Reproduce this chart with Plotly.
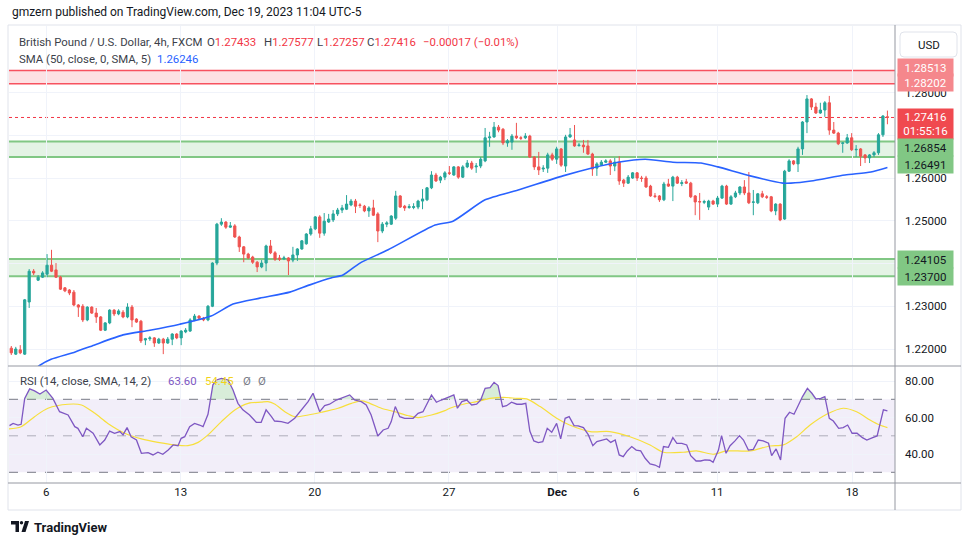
import plotly.graph_objects as go

# ---------------- data ----------------
opens = [1.2202,1.2188,1.2198,1.2188,1.2310,1.2382,1.2361,1.2368,1.2375,1.2396,
         1.2385,1.2368,1.2343,1.2338,1.2333,1.2303,1.2300,1.2268,1.2298,1.2284,
         1.2275,1.2244,1.2261,1.2291,1.2282,1.2286,1.2275,1.2298,1.2270,1.2265,
         1.2221,1.2224,1.2226,1.2214,1.2223,1.2214,1.2223,1.2235,1.2226,1.2240,
         1.2242,1.2268,1.2277,1.2272,1.2268,1.2300,1.2401,1.2492,1.2497,1.2485,
         1.2488,1.2462,1.2439,1.2422,1.2415,1.2403,1.2392,1.2401,1.2441,1.2425,
         1.2413,1.2411,1.2413,1.2408,1.2420,1.2434,1.2446,1.2469,1.2481,1.2509,
         1.2471,1.2497,1.2502,1.2516,1.2525,1.2527,1.2537,1.2546,1.2537,1.2534,
         1.2523,1.2530,1.2516,1.2476,1.2492,1.2492,1.2506,1.2558,1.2534,1.2531,
         1.2531,1.2532,1.2546,1.2549,1.2577,1.2607,1.2595,1.2602,1.2612,1.2607,
         1.2626,1.2602,1.2626,1.2635,1.2626,1.2628,1.2640,1.2694,1.2696,1.2719,
         1.2714,1.2682,1.2684,1.2698,1.2694,1.2694,1.2698,1.2649,1.2626,1.2621,
         1.2623,1.2654,1.2644,1.2668,1.2628,1.2696,1.2689,1.2676,1.2677,1.2675,
         1.2656,1.2623,1.2630,1.2637,1.2640,1.2628,1.2637,1.2595,1.2588,1.2600,
         1.2612,1.2600,1.2600,1.2581,1.2558,1.2558,1.2549,1.2586,1.2581,1.2602,
         1.2587,1.2591,1.2588,1.2558,1.2545,1.2543,1.2532,1.2546,1.2539,1.2553,
         1.2581,1.2539,1.2556,1.2565,1.2579,1.2565,1.2543,1.2542,1.2563,1.2556,
         1.2556,1.2523,1.2539,1.2504,1.2616,1.2640,1.2633,1.2668,1.2731,1.2785,
         1.2766,1.2752,1.2759,1.2776,1.2712,1.2705,1.2681,1.2682,1.2694,1.2666,
         1.2668,1.2654,1.2647,1.2654,1.2659,1.2701,1.27433]
highs = [1.2207,1.2205,1.2209,1.2317,1.2387,1.2387,1.2373,1.2382,1.2422,1.2432,
         1.2401,1.2371,1.2345,1.2340,1.2338,1.2305,1.2305,1.2300,1.2300,1.2296,
         1.2277,1.2263,1.2293,1.2293,1.2293,1.2291,1.2307,1.2303,1.2272,1.2268,
         1.2226,1.2230,1.2228,1.2226,1.2226,1.2228,1.2237,1.2237,1.2244,1.2249,
         1.2272,1.2282,1.2279,1.2275,1.2303,1.2403,1.2495,1.2506,1.2499,1.2497,
         1.2492,1.2465,1.2441,1.2425,1.2418,1.2406,1.2408,1.2444,1.2455,1.2429,
         1.2420,1.2418,1.2415,1.2439,1.2436,1.2455,1.2471,1.2488,1.2511,1.2513,
         1.2518,1.2516,1.2525,1.2530,1.2537,1.2560,1.2551,1.2551,1.2541,1.2537,
         1.2534,1.2549,1.2520,1.2497,1.2499,1.2513,1.2570,1.2560,1.2537,1.2539,
         1.2541,1.2549,1.2574,1.2579,1.2616,1.2612,1.2605,1.2616,1.2628,1.2628,
         1.2628,1.2630,1.2642,1.2640,1.2635,1.2649,1.2717,1.2708,1.2731,1.2724,
         1.2717,1.2691,1.2703,1.2729,1.2698,1.2705,1.2701,1.2651,1.2661,1.2630,
         1.2659,1.2659,1.2673,1.2670,1.2701,1.2717,1.2724,1.2682,1.2689,1.2689,
         1.2659,1.2637,1.2642,1.2644,1.2644,1.2647,1.2651,1.2598,1.2607,1.2614,
         1.2614,1.2605,1.2605,1.2584,1.2565,1.2560,1.2591,1.2598,1.2605,1.2605,
         1.2595,1.2598,1.2591,1.2560,1.2565,1.2549,1.2549,1.2549,1.2558,1.2584,
         1.2584,1.2560,1.2570,1.2581,1.2595,1.2614,1.2572,1.2565,1.2570,1.2560,
         1.2558,1.2541,1.2541,1.2619,1.2644,1.2642,1.2673,1.2733,1.2794,1.2787,
         1.2776,1.2776,1.2780,1.2792,1.2731,1.2708,1.2684,1.2703,1.2705,1.2677,
         1.2670,1.2656,1.2656,1.2663,1.2705,1.2747,1.27577]
lows = [1.2186,1.2186,1.2188,1.2186,1.2296,1.2373,1.2359,1.2366,1.2368,1.2380,
        1.2366,1.2338,1.2333,1.2326,1.2300,1.2275,1.2263,1.2265,1.2282,1.2261,
        1.2242,1.2242,1.2258,1.2277,1.2279,1.2272,1.2272,1.2251,1.2261,1.2214,
        1.2209,1.2219,1.2205,1.2212,1.2188,1.2212,1.2209,1.2223,1.2209,1.2237,
        1.2240,1.2265,1.2270,1.2265,1.2265,1.2298,1.2396,1.2488,1.2481,1.2483,
        1.2460,1.2427,1.2403,1.2410,1.2399,1.2380,1.2389,1.2382,1.2422,1.2406,
        1.2406,1.2408,1.2373,1.2403,1.2406,1.2432,1.2444,1.2465,1.2478,1.2460,
        1.2465,1.2495,1.2497,1.2511,1.2518,1.2525,1.2534,1.2518,1.2530,1.2520,
        1.2509,1.2511,1.2450,1.2471,1.2485,1.2490,1.2502,1.2530,1.2523,1.2528,
        1.2527,1.2527,1.2527,1.2546,1.2574,1.2591,1.2588,1.2595,1.2607,1.2605,
        1.2598,1.2600,1.2623,1.2619,1.2612,1.2623,1.2637,1.2673,1.2694,1.2707,
        1.2677,1.2673,1.2666,1.2691,1.2689,1.2691,1.2647,1.2619,1.2607,1.2614,
        1.2612,1.2640,1.2633,1.2626,1.2614,1.2694,1.2673,1.2673,1.2659,1.2654,
        1.2605,1.2605,1.2628,1.2635,1.2607,1.2616,1.2584,1.2579,1.2586,1.2598,
        1.2593,1.2591,1.2577,1.2556,1.2553,1.2544,1.2546,1.2579,1.2546,1.2586,
        1.2581,1.2586,1.2553,1.2513,1.2502,1.2539,1.2525,1.2537,1.2532,1.2551,
        1.2537,1.2537,1.2553,1.2560,1.2560,1.2539,1.2513,1.2539,1.2553,1.2551,
        1.2520,1.2513,1.2499,1.2502,1.2614,1.2630,1.2614,1.2654,1.2705,1.2759,
        1.2750,1.2750,1.2743,1.2701,1.2703,1.2677,1.2659,1.2680,1.2663,1.2649,
        1.2628,1.2635,1.2635,1.2649,1.2654,1.2696,1.27257]
closes = [1.2191,1.2200,1.2191,1.2315,1.2382,1.2378,1.2368,1.2378,1.2396,1.2382,
          1.2368,1.2340,1.2336,1.2331,1.2303,1.2298,1.2268,1.2298,1.2284,1.2275,
          1.2244,1.2261,1.2291,1.2282,1.2289,1.2275,1.2298,1.2268,1.2263,1.2219,
          1.2224,1.2226,1.2214,1.2223,1.2214,1.2223,1.2235,1.2226,1.2242,1.2244,
          1.2268,1.2277,1.2272,1.2268,1.2300,1.2401,1.2492,1.2497,1.2485,1.2488,
          1.2462,1.2439,1.2422,1.2413,1.2403,1.2392,1.2401,1.2441,1.2425,1.2410,
          1.2410,1.2413,1.2406,1.2420,1.2434,1.2453,1.2469,1.2481,1.2509,1.2471,
          1.2499,1.2504,1.2516,1.2525,1.2530,1.2539,1.2546,1.2534,1.2536,1.2523,
          1.2530,1.2513,1.2476,1.2492,1.2495,1.2511,1.2558,1.2532,1.2530,1.2533,
          1.2533,1.2546,1.2551,1.2577,1.2607,1.2593,1.2602,1.2612,1.2611,1.2626,
          1.2602,1.2626,1.2635,1.2623,1.2628,1.2644,1.2694,1.2696,1.2719,1.2712,
          1.2682,1.2687,1.2698,1.2694,1.2693,1.2698,1.2649,1.2626,1.2619,1.2623,
          1.2654,1.2644,1.2668,1.2630,1.2696,1.2701,1.2675,1.2677,1.2673,1.2656,
          1.2621,1.2633,1.2637,1.2640,1.2628,1.2637,1.2593,1.2588,1.2602,1.2612,
          1.2600,1.2599,1.2579,1.2558,1.2557,1.2549,1.2586,1.2581,1.2602,1.2588,
          1.2589,1.2588,1.2556,1.2544,1.2544,1.2545,1.2546,1.2539,1.2553,1.2581,
          1.2539,1.2556,1.2565,1.2579,1.2565,1.2542,1.2544,1.2563,1.2556,1.2555,
          1.2523,1.2539,1.2502,1.2616,1.2640,1.2633,1.2668,1.2731,1.2785,1.2766,
          1.2752,1.2759,1.2776,1.2712,1.2705,1.2680,1.2682,1.2694,1.2666,1.2667,
          1.2651,1.2647,1.2654,1.2659,1.2701,1.2745,1.27416]

# SMA(50) line samples (bar index, price)
sma_idx = [5.0, 6.4, 8.9, 14.3, 18.5, 25.0, 31.0, 37.7, 44.7, 49.6, 55.6, 62.3, 66.8,
           71.5, 74.2, 78.0, 84.3, 94.8, 98.8, 106.0, 113.4, 123.4, 129.7, 135.7,
           141.8, 148.0, 154.3, 158.1, 165.3, 172.6, 174.4, 178.9, 186.5, 192.3, 196.0]
sma_val = [1.2150, 1.2162, 1.2176, 1.2193, 1.2209, 1.2233, 1.2244, 1.2258, 1.2277,
           1.2305, 1.2319, 1.2333, 1.2350, 1.2366, 1.2373, 1.2401, 1.2432, 1.2490,
           1.2499, 1.2549, 1.2572, 1.2605, 1.2623, 1.2637, 1.2644, 1.2637, 1.2635,
           1.2626, 1.2605, 1.2588, 1.2588, 1.2593, 1.2607, 1.2614, 1.26246]

# RSI(14) samples (bar index, value)
rsi_idx = [-0.4,0.4,1.5,2.2,3.0,4.1,5.2,6.4,7.8,9.3,10.8,12.7,14.2,14.9,16.0,16.8,18.3,
           19.8,20.9,22.0,23.1,24.3,25.0,25.9,26.8,28.0,29.1,30.6,31.7,32.8,33.9,35.1,
           36.2,37.3,38.0,38.8,39.9,41.0,42.1,42.9,44.0,45.1,45.9,47.0,48.5,49.6,50.7,
           51.8,53.3,54.8,55.9,57.0,58.2,58.9,60.4,61.9,63.4,64.9,66.4,67.5,69.0,70.1,
           71.2,72.7,74.2,75.7,76.8,78.3,79.4,80.5,82.0,83.2,84.3,85.0,85.9,86.9,88.0,
           89.9,91.0,92.1,94.0,95.1,96.2,97.3,98.1,99.0,99.8,100.8,101.9,103.0,104.1,
           105.0,106.0,107.1,108.0,108.9,109.9,110.8,111.9,113.1,114.2,115.1,116.0,
           116.9,117.9,118.9,119.9,120.9,122.0,122.9,123.9,124.8,125.9,126.8,128.0,
           129.1,130.1,131.0,132.1,133.2,134.1,135.1,136.0,136.9,137.8,138.8,139.8,
           140.8,141.8,142.9,144.0,145.0,145.9,147.0,148.0,148.9,150.0,151.1,152.0,
           153.2,154.2,155.2,156.3,157.0,158.2,158.9,159.9,160.8,161.9,162.9,163.8,
           164.9,166.0,167.1,168.2,169.4,170.1,171.1,172.1,173.1,174.1,175.1,176.1,
           177.0,178.1,179.1,180.0,181.1,182.0,183.0,183.9,185.1,186.1,187.1,188.1,
           189.2,190.4,191.4,192.7,193.7,195.1,196.0]
rsi_val = [55.6,56.8,55.9,56.3,70.5,75.7,74.6,72.9,75.1,70.5,63.2,61.4,55.0,54.1,49.5,
           54.1,51.4,45.0,47.7,52.6,51.4,52.3,50.5,54.5,49.5,47.7,40.4,40.8,39.5,41.0,
           39.9,42.2,45.0,44.6,48.6,49.5,55.0,56.8,55.9,55.0,61.8,77.9,80.6,81.5,80.6,
           75.1,67.8,64.2,61.4,57.4,57.4,64.2,60.5,58.1,57.8,56.8,59.6,64.2,68.7,73.3,
           63.2,66.5,67.3,69.6,70.9,72.4,69.6,68.7,66.9,61.4,49.9,53.2,54.1,57.8,66.0,
           60.5,59.6,59.6,62.3,63.2,72.4,68.4,69.6,70.5,71.5,72.4,65.1,68.7,69.6,66.9,
           67.3,69.6,76.0,76.4,79.3,77.5,66.0,66.5,68.4,67.3,67.3,67.8,52.6,47.2,46.3,
           46.8,54.1,51.9,56.8,48.3,59.6,60.5,55.6,55.4,54.5,50.5,44.6,46.8,47.5,48.3,
           46.4,47.7,39.5,38.6,41.7,44.1,42.2,41.7,37.7,34.6,34.0,32.7,44.1,43.7,49.0,
           45.9,45.9,45.0,39.1,36.2,36.2,36.8,36.6,35.5,42.2,50.1,40.4,44.6,47.2,50.1,
           47.7,42.2,42.6,47.7,47.2,45.9,39.1,42.8,36.8,59.6,62.9,61.8,66.9,71.5,76.0,
           73.3,70.2,70.5,71.5,59.6,58.1,54.1,54.5,55.9,51.4,51.4,49.0,47.7,49.0,49.9,
           64.2,63.6]

# RSI-based MA samples (bar index, value)
rsima_idx = [-0.7,2.2,5.2,8.2,12.7,15.7,18.7,21.6,25.4,29.1,32.8,36.6,39.5,41.8,44.0,
             47.0,50.0,53.0,55.9,57.4,58.9,61.2,63.4,66.4,69.4,73.1,76.1,78.3,79.8,82.8,
             85.8,88.7,91.0,94.0,97.0,98.1,101.1,104.1,107.1,110.1,113.1,115.3,118.3,
             122.0,124.9,129.5,133.9,138.4,142.9,145.9,150.3,153.3,157.0,160.0,165.3,
             169.7,172.7,175.7,178.7,182.4,186.1,189.1,192.1,194.3,196.0]
rsima_val = [53.7,55.0,60.5,65.1,67.3,66.9,62.3,56.8,51.4,48.3,46.4,45.0,44.6,46.4,50.5,
             57.8,64.2,67.8,68.4,68.7,67.4,63.2,60.5,61.4,62.9,65.1,67.8,69.1,68.2,65.1,
             63.2,61.1,60.0,61.4,63.8,65.1,67.3,68.7,70.5,71.1,70.5,70.2,66.0,59.6,55.9,
             52.3,52.3,49.5,45.0,41.0,41.0,41.7,39.9,41.7,41.7,44.4,45.0,49.5,55.9,61.8,
             65.1,63.2,58.7,55.9,54.45]

tick_idx = [7.8, 37.9, 67.9, 97.9, 122.1, 139.8, 157.9, 188.1]
tick_txt = ["6", "13", "20", "27", "<b>Dec</b>", "6", "11", "18"]

price_ticks = [1.22, 1.23, 1.24, 1.25, 1.26, 1.27, 1.28]
price_tick_txt = ["1.22000", "1.23000", "", "1.25000", "1.26000", "", "1.28000"]

red_zone = [1.28202, 1.28513]
green_zones = [[1.26491, 1.26854], [1.23700, 1.24105]]
last_price = 1.27416

# ---------------- layout geometry ----------------
W, H = 970, 545
PL, PR, PT, PB = 9, 895, 26, 483
PW, PH = PR - PL, PB - PT


def px(x):
    return (x - PL) / PW


def py(y):
    return (PB - y) / PH


FONT = "Roboto, 'Open Sans', sans-serif"
TXT = "#131722"
LEG = "#3c3f4a"
GRID = "#f0f3fa"
GREEN = "#26a69a"
RED = "#ef5350"
LFS = 11.4  # legend font size

fig = go.Figure()

fig.add_trace(go.Candlestick(
    x=list(range(len(opens))), open=opens, high=highs, low=lows, close=closes,
    increasing=dict(line=dict(color=GREEN, width=1), fillcolor=GREEN),
    decreasing=dict(line=dict(color=RED, width=1), fillcolor=RED),
    whiskerwidth=0, xaxis="x", yaxis="y", showlegend=False, hoverinfo="skip"))

fig.add_trace(go.Scatter(
    x=sma_idx, y=sma_val, mode="lines", xaxis="x", yaxis="y",
    line=dict(color="#2962ff", width=1.6, shape="spline", smoothing=0.6),
    showlegend=False, hoverinfo="skip"))

# RSI overbought fill (above 70)
ox, oy = [], []
for i in range(len(rsi_idx)):
    if i > 0:
        y0, y1 = rsi_val[i - 1], rsi_val[i]
        if (y0 - 70) * (y1 - 70) < 0:
            t = (70 - y0) / (y1 - y0)
            ox.append(rsi_idx[i - 1] + t * (rsi_idx[i] - rsi_idx[i - 1]))
            oy.append(70)
    ox.append(rsi_idx[i])
    oy.append(max(rsi_val[i], 70))
fig.add_trace(go.Scatter(x=ox, y=[70] * len(ox), mode="lines", line=dict(width=0),
                         xaxis="x2", yaxis="y2", showlegend=False, hoverinfo="skip"))
fig.add_trace(go.Scatter(x=ox, y=oy, mode="lines", line=dict(width=0), fill="tonexty",
                         fillcolor="rgba(76,175,80,0.22)",
                         xaxis="x2", yaxis="y2", showlegend=False, hoverinfo="skip"))

fig.add_trace(go.Scatter(
    x=rsima_idx, y=rsima_val, mode="lines", xaxis="x2", yaxis="y2",
    line=dict(color="#f7df3c", width=1.2, shape="spline", smoothing=0.8),
    showlegend=False, hoverinfo="skip"))
fig.add_trace(go.Scatter(
    x=rsi_idx, y=rsi_val, mode="lines", xaxis="x2", yaxis="y2",
    line=dict(color="#7e57c2", width=1.3),
    showlegend=False, hoverinfo="skip"))

shapes = []
# price zones
shapes.append(dict(type="rect", xref="x domain", yref="y", x0=0, x1=1,
                   y0=red_zone[0], y1=red_zone[1], fillcolor="rgba(242,54,69,0.15)",
                   line=dict(width=0), layer="below"))
for lv in red_zone:
    shapes.append(dict(type="line", xref="x domain", yref="y", x0=0, x1=1, y0=lv, y1=lv,
                       line=dict(color="#f7525f", width=1.5), layer="below"))
for z in green_zones:
    shapes.append(dict(type="rect", xref="x domain", yref="y", x0=0, x1=1,
                       y0=z[0], y1=z[1], fillcolor="rgba(76,175,80,0.15)",
                       line=dict(width=0), layer="below"))
    for lv in z:
        shapes.append(dict(type="line", xref="x domain", yref="y", x0=0, x1=1, y0=lv, y1=lv,
                           line=dict(color="#81c784", width=2), layer="below"))
shapes.append(dict(type="line", xref="x domain", yref="y", x0=0, x1=1,
                   y0=last_price, y1=last_price,
                   line=dict(color="#f23645", width=1, dash="dot"), layer="below"))
# RSI band + levels
shapes.append(dict(type="rect", xref="x2 domain", yref="y2", x0=0, x1=1, y0=30, y1=70,
                   fillcolor="rgba(126,87,194,0.10)", line=dict(width=0), layer="below"))
for lv, col in [(70, "#787b86"), (50, "rgba(120,123,134,0.55)"), (30, "#787b86")]:
    shapes.append(dict(type="line", xref="x2 domain", yref="y2", x0=0, x1=1, y0=lv, y1=lv,
                       line=dict(color=col, width=1, dash="dash"), layer="below"))

# frame lines
FR = "#9598a1"
shapes.append(dict(type="rect", xref="paper", yref="paper", x0=px(8), x1=px(961),
                   y0=py(510), y1=py(25), line=dict(color="#e0e3eb", width=1)))
shapes.append(dict(type="line", xref="paper", yref="paper", x0=px(895), x1=px(895),
                   y0=py(510), y1=py(25), line=dict(color=FR, width=1)))
for yy in (366, 483):
    shapes.append(dict(type="line", xref="paper", yref="paper", x0=px(8), x1=px(961),
                       y0=py(yy), y1=py(yy), line=dict(color=FR, width=1)))


# USD box (rounded)
def rrect(x0, y0, x1, y1, r):
    X0, X1, Y0, Y1 = px(x0), px(x1), py(y0), py(y1)
    rx, ry = r / PW, r / PH
    return (f"M {X0+rx},{Y0} L {X1-rx},{Y0} Q {X1},{Y0} {X1},{Y0-ry} "
            f"L {X1},{Y1+ry} Q {X1},{Y1} {X1-rx},{Y1} L {X0+rx},{Y1} "
            f"Q {X0},{Y1} {X0},{Y1+ry} L {X0},{Y0-ry} Q {X0},{Y0} {X0+rx},{Y0} Z")


shapes.append(dict(type="path", xref="paper", yref="paper", path=rrect(900, 32, 957, 57, 4),
                   line=dict(color="#e0e3eb", width=1), fillcolor="white"))

# TradingView logo
shapes.append(dict(type="path", xref="paper", yref="paper",
                   path=(f"M {px(11)},{py(521)} L {px(19)},{py(521)} L {px(19)},{py(532)} "
                         f"L {px(15.5)},{py(532)} L {px(15.5)},{py(524.5)} L {px(11)},{py(524.5)} Z"),
                   fillcolor=TXT, line=dict(width=0)))
shapes.append(dict(type="circle", xref="paper", yref="paper",
                   x0=px(19.8), x1=px(23.2), y0=py(521), y1=py(524.4),
                   fillcolor=TXT, line=dict(width=0)))
shapes.append(dict(type="path", xref="paper", yref="paper",
                   path=(f"M {px(25)},{py(521)} L {px(29)},{py(521)} L {px(25.5)},{py(532)} "
                         f"L {px(21.5)},{py(532)} Z"),
                   fillcolor=TXT, line=dict(width=0)))

ann = []


def label(text, x, y, color=TXT, size=LFS, bold=False, anchor="left"):
    if bold:
        text = f"<b>{text}</b>"
    ann.append(dict(text=text, x=px(x), y=py(y), xref="paper", yref="paper",
                    xanchor=anchor, yanchor="middle", showarrow=False,
                    font=dict(family=FONT, size=size, color=color)))


PR_RED = "#f23645"
label("gmzern published on TradingView.com, Dec 19, 2023 11:04 UTC-5", 10, 12, size=12)
label("British Pound / U.S. Dollar, 4h, FXCM", 17, 42, color=LEG)
label(f"O<span style='color:{PR_RED}'>1.27433</span>", 205, 42, color=LEG)
label(f"H<span style='color:{PR_RED}'>1.27577</span>", 262, 42, color=LEG)
label(f"L<span style='color:{PR_RED}'>1.27257</span>", 315, 42, color=LEG)
label(f"C<span style='color:{PR_RED}'>1.27416</span>", 365, 42, color=LEG)
label("\u22120.00017 (\u22120.01%)", 421, 42, color=PR_RED)
label("SMA (50, close, 0, SMA, 5)", 17, 59, color=LEG)
label("1.26246", 155, 59, color="#2962ff")
label("RSI (14, close, SMA, 14, 2)", 18, 381, color=LEG)
label("63.60", 166, 381, color="#7e57c2")
label("54.45", 203, 381, color="#f2d31b")
label("\u00d8", 241, 381, color="#787b86")
label("\u00d8", 256, 381, color="#787b86")
label("USD", 928.5, 44.5, size=11.5, anchor="center")
label("TradingView", 32, 527, size=13, bold=True)


def price_box(text, val, bg, fg, shift, lines=1):
    ann.append(dict(text=text, x=px(897), y=val, xref="paper", yref="y",
                    xanchor="left", yanchor="top" if lines == 2 else "middle",
                    yshift=shift, showarrow=False, align="center",
                    width=51, height=13 * lines, borderpad=2, bgcolor=bg,
                    font=dict(family=FONT, size=11.5, color=fg)))


price_box("1.28513", red_zone[1], "#f5878c", "white", 3.5)
price_box("1.28202", red_zone[0], "#f5878c", "white", 1.4)
price_box(f"{last_price:.5f}<br>01:55:16", last_price, "#f0494f", "white", 9.5, lines=2)
price_box("1.26854", green_zones[0][1], "#81c784", TXT, -6.5)
price_box("1.26491", green_zones[0][0], "#81c784", TXT, -7.5)
price_box("1.24105", green_zones[1][1], "#81c784", TXT, 0)
price_box("1.23700", green_zones[1][0], "#81c784", TXT, 0)

main_bottom = py(366)
rsi_top = py(367)
p_top = 1.26 + (178 - PT) / 4275
p_bot = 1.26 - (366 - 178) / 4275
r_top = 70 + (399.3 - 367) / 1.825
r_bot = 70 - (PB - 399.3) / 1.825
xr = [(PL - 11.3) / 4.47, (PR - 11.3) / 4.47]

fig.update_layout(
    width=W, height=H, margin=dict(l=PL, r=W - PR, t=PT, b=H - PB),
    paper_bgcolor="white", plot_bgcolor="white", showlegend=False, hovermode=False,
    font=dict(family=FONT, size=12, color=TXT),
    xaxis=dict(domain=[0, 1], anchor="y", range=xr, tickvals=tick_idx, showticklabels=False,
               showgrid=True, gridcolor=GRID, zeroline=False, showline=False, ticks="",
               rangeslider=dict(visible=False)),
    xaxis2=dict(domain=[0, 1], anchor="y2", matches="x", range=xr, tickvals=tick_idx,
                ticktext=tick_txt, showgrid=True, gridcolor=GRID, zeroline=False,
                showline=False, ticks="", tickfont=dict(size=11.5, color=TXT),
                rangeslider=dict(visible=False)),
    yaxis=dict(domain=[main_bottom, 1], anchor="x", range=[p_bot, p_top], side="right",
               tickvals=price_ticks, ticktext=price_tick_txt, showgrid=True, gridcolor=GRID,
               zeroline=False, showline=False, ticks="", ticklabelstandoff=9,
               tickfont=dict(size=11.5, color=TXT)),
    yaxis2=dict(domain=[0, rsi_top], anchor="x2", range=[r_bot, r_top], side="right",
                tickvals=[40, 60, 80], ticktext=["40.00", "60.00", "80.00"], showgrid=True,
                gridcolor=GRID, zeroline=False, showline=False, ticks="",
                ticklabelstandoff=9, tickfont=dict(size=11.5, color=TXT)),
    shapes=shapes, annotations=ann,
)

fig.write_html("out.html", config={"displayModeBar": False},
               post_script="document.body.style.margin='0px';")
